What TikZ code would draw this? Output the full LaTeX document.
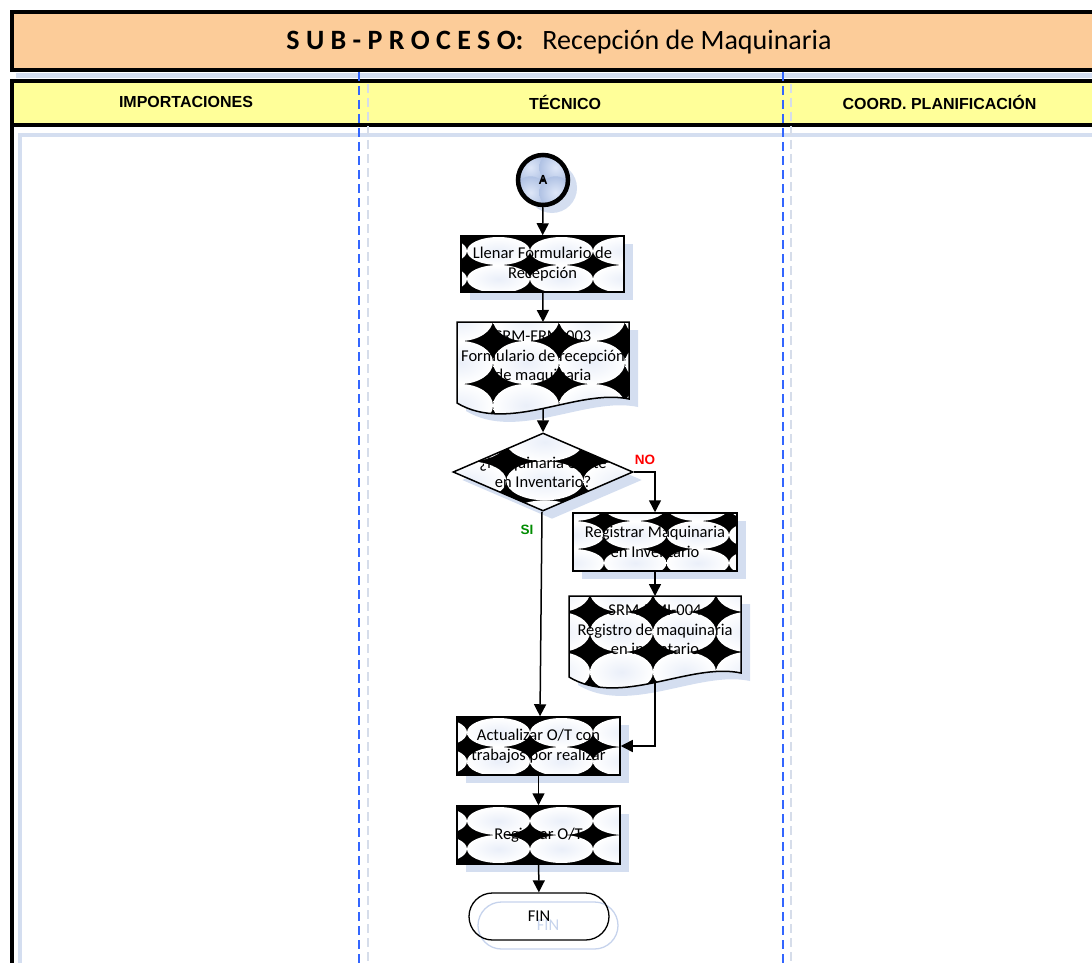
\documentclass[tikz,border=0pt]{standalone}
\usepackage{fontspec}
\setmainfont{Carlito}
\newfontfamily\arialf{Liberation Sans}
\usetikzlibrary{arrows.meta,shapes.geometric,shadows,calc}
\definecolor{titleor}{RGB}{252,204,153}
\definecolor{headyel}{RGB}{255,255,153}
\definecolor{shblue}{RGB}{212,222,240}
\definecolor{laneblue}{RGB}{51,102,255}
\definecolor{laneghost}{RGB}{214,221,234}
\definecolor{blobin}{RGB}{234,239,249}
\definecolor{blobinA}{RGB}{222,231,248}
\definecolor{bloboutA}{RGB}{176,194,228}
\definecolor{sigreen}{RGB}{0,140,0}
\definecolor{finghost}{RGB}{198,211,236}
\tikzset{
  pat/.style args={#1/#2/#3/#4/#5/#6/#7}{path picture={
    \fill[black] (path picture bounding box.south west) rectangle (path picture bounding box.north east);
    \foreach \i in {-2,...,4}{\foreach \j in {-2,...,4}{
      \pgfmathsetmacro\cx{#3+(\i+0.5)*#1}
      \pgfmathsetmacro\cy{-(#4+(\j+0.5)*#2)}
      \pgfmathsetmacro\rx{0.5*#1*#7}
      \pgfmathsetmacro\ry{0.5*#2*#7}
      \shade[inner color=#5, outer color=#6] ([shift={(\cx pt,\cy pt)}]path picture bounding box.north west) ellipse [x radius=\rx pt, y radius=\ry pt];
    }}}},
  bshadow/.style={drop shadow={shadow xshift=9pt, shadow yshift=-8pt, fill=shblue, opacity=1}},
  boxtext/.style={font=\fontsize{16.5}{19.5}\selectfont, align=center},
  proc/.style={rectangle, draw, line width=1.5pt, minimum width=163pt, minimum height=57pt, inner sep=0pt, boxtext, bshadow},
  arr/.style={line width=1.5pt, -{Triangle[length=12pt,width=12pt]}},
  lanehead/.style={font=\arialf\bfseries\fontsize{16}{19}\selectfont},
  lanesep/.style={laneblue, line width=1.3pt, dash pattern=on 9pt off 5pt},
  laneshadow/.style={laneghost, line width=1.3pt, dash pattern=on 9pt off 5pt},
  term/.style={rectangle, rounded corners=23.5pt, minimum width=140pt, minimum height=47pt, line width=1.3pt, inner sep=0pt, boxtext},
  lbl/.style={font=\arialf\bfseries\fontsize{13.5}{16}\selectfont},
}
\begin{document}
\begin{tikzpicture}[x=1pt,y=-1pt]
\useasboundingbox (0,0) rectangle (1092,963);
% background strips (shadows of the frame)
\fill[shblue] (16,73) rectangle (1092,78);
\fill[shblue] (18,133) rectangle (1092,137);
\fill[shblue] (18,133) rectangle (22,963);
% title band
\node[draw, line width=4pt, fill=titleor, minimum width=1100pt, minimum height=58pt, anchor=north west, inner sep=0pt, outer sep=0pt] (titlebox) at (12,12) {};
\node[font=\fontsize{28}{32}\selectfont] (titletext) at (559,42.5) {{\bfseries S U B - P R O C E S O:}\hspace{19pt}Recepción de Maquinaria};
% header band
\node[draw, line width=4pt, fill=headyel, minimum width=1100pt, minimum height=44pt, anchor=north west, inner sep=0pt, outer sep=0pt] (headbox) at (12,81) {};
\node[lanehead] (h1) at (186,102) {IMPORTACIONES};
\node[lanehead] (h2) at (565,102) {TÉCNICO};
\node[lanehead] (h3) at (939.5,102) {COORD. PLANIFICACIÓN};
% left border of the body
\draw[line width=4.5pt] (11.75,125) -- (11.75,970);
% lane separators
\draw[laneshadow] (368,84) -- (368,963);
\draw[laneshadow] (791,84) -- (791,963);
\draw[lanesep] (359,72) -- (359,963);
\draw[lanesep] (783,72) -- (783,963);

% connector A
\node[circle, draw, line width=4.5pt, minimum size=50pt, inner sep=0pt, pat=25/25/0/0/blobinA/bloboutA/1.3, bshadow, font=\bfseries\fontsize{14}{16}\selectfont] (A) at (543,180) {A};
% process boxes
\node[proc, minimum width=163pt, minimum height=56pt, pat=63/28/6/1/blobin/white/1] (llenar) at (542.5,264) {Llenar Formulario de\\Recepción};
\node[proc, minimum width=164pt, minimum height=58pt, pat=62.5/28/31/8/blobin/white/1] (reg) at (655,542) {Registrar Maquinaria\\en Inventario};
\node[proc, minimum height=58pt, pat=63/29/10/1/blobin/white/1] (act) at (538.5,746) {Actualizar O/T con\\trabajos por realizar};
\node[proc, minimum height=58pt, pat=63/28/10/1/blobin/white/1] (regot) at (538.5,835) {Registrar O/T};
% documents
\path[draw, line width=1.5pt, pat=66/43/36/19/blobin/white/1, bshadow] (457,322) -- (629,322) -- (629,399) .. controls (577.4,388) and (508.6,434) .. (457,403) coordinate[pos=0.5] (d1b) -- cycle;
\coordinate (d1t) at (543,322);
\node[boxtext] (doc1) at (543,357) {SRM-FRM-003\\Formulario de recepción\\de maquinaria};
\path[draw, line width=1.5pt, pat=63/40/21/16/blobin/white/1, bshadow] (569,596) -- (741,596) -- (741,673) .. controls (689.4,662) and (620.6,708) .. (569,677) coordinate[pos=0.5] (d2b) -- cycle;
\coordinate (d2t) at (655,596);
\node[boxtext] (doc2) at (655,630) {SRM-RMI-004\\Registro de maquinaria\\en inventario};
% decision
\node[diamond, draw, line width=1.5pt, minimum width=180pt, minimum height=78pt, inner sep=0pt, pat=77/39/53/28/blobin/white/1, bshadow] (dec) at (543,472) {};
\node[boxtext] (dectext) at (543,472.5) {¿Maquinaria existe\\en Inventario?};
% terminator
\node[term, draw=finghost, text=finghost] (finsh) at (548,925.5) {FIN};
\node[term, draw=black] (fin) at (539,916.5) {FIN};

% connectors
\draw[arr] (A) -- (llenar);
\draw[arr] (llenar) -- (d1t);
\draw[arr] (d1b) -- (dec.north);
\draw[arr] (dec.east) -| (reg.north);
\draw[arr] ([xshift=-1pt]dec.south) -- ([xshift=1.5pt]act.north);
\draw[arr] (reg) -- (d2t);
\draw[arr] (d2b) |- (act.east);
\draw[arr] (act) -- (regot);
\draw[arr] (regot) -- (fin);
% labels
\node[lbl, text=red] (lblno) at (645,460) {NO};
\node[lbl, text=sigreen] (lblsi) at (527,530) {SI};
\end{tikzpicture}
\end{document}
